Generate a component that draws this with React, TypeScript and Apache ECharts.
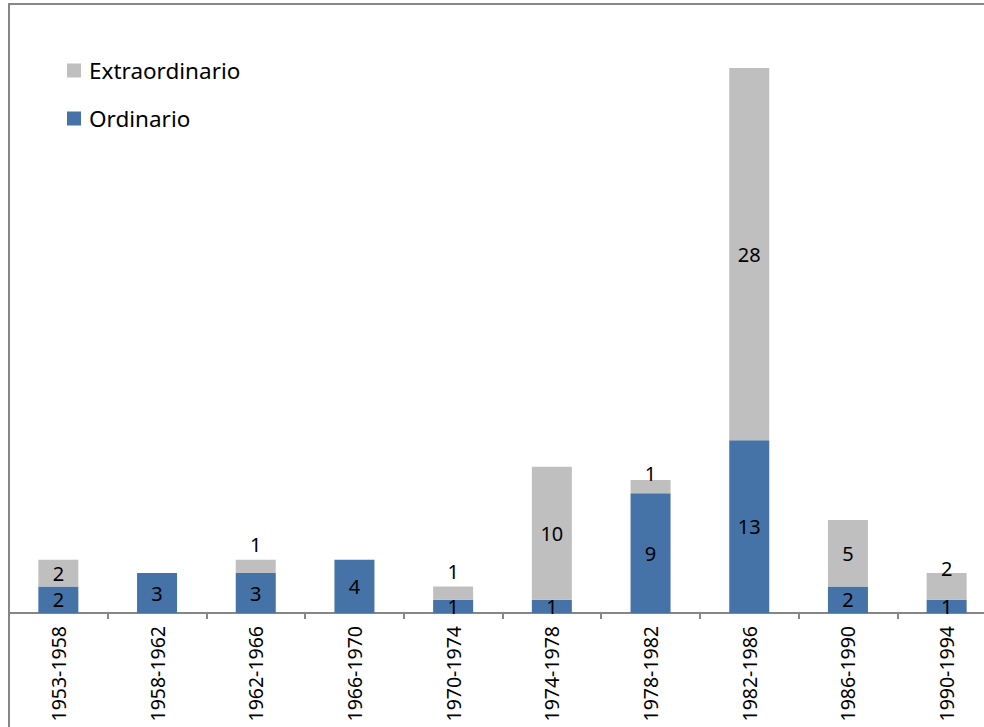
import React, { useEffect, useRef } from "react";
import * as echarts from "echarts";

const categories = [
  "1953-1958", "1958-1962", "1962-1966", "1966-1970", "1970-1974",
  "1974-1978", "1978-1982", "1982-1986", "1986-1990", "1990-1994",
];
const ordinario = [2, 3, 3, 4, 1, 1, 9, 13, 2, 1];
const extraordinario = [2, 0, 1, 0, 1, 10, 1, 28, 5, 2];

const FONT = "'Noto Sans', sans-serif";
const BLUE = "#4572A7";
const GRAY = "#BFBFBF";
const AXIS = "#868686";

// label nudges (pixels) for the grey segments, by category index
const extraLabelOffset: Record<number, [number, number]> = { 6: [0, 8], 9: [0, -18] };

export default function App() {
  const ref = useRef<HTMLDivElement>(null);
  useEffect(() => {
    if (!ref.current) return;
    const chart = echarts.init(ref.current, null, { renderer: "svg" });
    const extraData = extraordinario.map((v, i) => {
      if (v === 0) return { value: v, label: { show: false } };
      const label: any = {};
      if (v === 1) {
        label.position = "top";
        label.distance = 5;
      }
      if (extraLabelOffset[i]) label.offset = extraLabelOffset[i];
      return { value: v, label };
    });
    chart.setOption({
      animation: false,
      backgroundColor: "#ffffff",
      textStyle: { fontFamily: FONT },
      grid: {
        left: 9,
        width: 987,
        top: 68,
        bottom: 114,
        containLabel: false,
        outerBoundsMode: "none",
      },
      legend: {
        orient: "vertical",
        left: 67,
        top: 58.5,
        padding: 0,
        data: ["Extraordinario", "Ordinario"],
        icon: "rect",
        itemWidth: 14,
        itemHeight: 14,
        itemGap: 24,
        textStyle: { fontFamily: FONT, fontSize: 22.5, color: "#000", lineHeight: 24, padding: [0, 0, 0, 3] },
      },
      xAxis: {
        type: "category",
        data: categories,
        axisLine: { lineStyle: { color: AXIS, width: 2 } },
        axisTick: { show: true, interval: 0, length: 6, lineStyle: { color: AXIS, width: 2 } },
        axisLabel: { rotate: 90, fontSize: 19.5, color: "#000", fontFamily: FONT, margin: 13, interval: 0 },
      },
      yAxis: {
        type: "value",
        min: 0,
        max: 41,
        show: false,
        splitLine: { show: false },
      },
      graphic: [
        {
          type: "line",
          shape: { x1: 9, y1: 4, x2: 9, y2: 727 },
          style: { stroke: AXIS, lineWidth: 2 },
          silent: true,
          z: 10,
        },
        {
          type: "line",
          shape: { x1: 8, y1: 4, x2: 984, y2: 4 },
          style: { stroke: AXIS, lineWidth: 2 },
          silent: true,
          z: 10,
        },
      ],
      series: [
        {
          name: "Ordinario",
          type: "bar",
          stack: "total",
          barWidth: 40,
          data: ordinario,
          itemStyle: { color: BLUE },
          label: { show: true, position: "inside", color: "#000", fontSize: 20, fontFamily: FONT },
        },
        {
          name: "Extraordinario",
          type: "bar",
          stack: "total",
          barWidth: 40,
          data: extraData,
          itemStyle: { color: GRAY },
          label: { show: true, position: "inside", color: "#000", fontSize: 20, fontFamily: FONT },
        },
      ],
    });
    return () => chart.dispose();
  }, []);
  return (
    <div
      ref={ref}
      style={{ position: "fixed", left: 0, top: 0, width: 984, height: 727, background: "#fff" }}
    />
  );
}
